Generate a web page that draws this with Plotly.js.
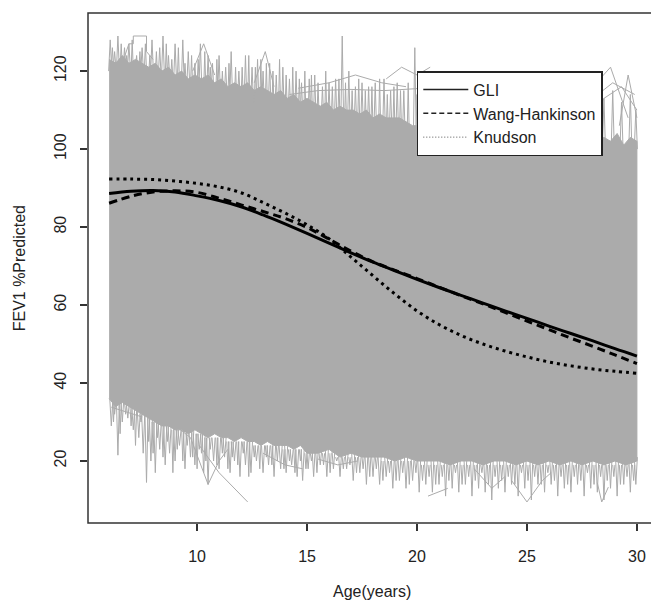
<!DOCTYPE html>
<html>
<head>
<meta charset="utf-8">
<script src="https://cdn.plot.ly/plotly-3.0.1.min.js"></script>
<style>html,body{margin:0;padding:0;background:#fff;}#chart{width:651px;height:602px;}</style>
</head>
<body>
<div id="chart"></div>
<script>
// Fitted reference curves (FEV1 %Predicted by age)
const curveAges = [6,7,8,9,10,11,12,13,14,15,16,17,18,19,20,21,22,23,24,25,26,27,28,29,30];
const gliVals   = [88.6,89.2,89.4,89.0,88.0,86.8,85.2,83.1,80.8,78.4,75.9,73.4,71.0,68.8,66.6,64.5,62.5,60.5,58.5,56.6,54.6,52.7,50.8,48.8,46.9];
const wangVals  = [86.1,87.9,89.0,89.3,88.9,87.4,85.7,84.0,82.2,79.9,76.9,73.8,71.1,68.9,66.8,64.6,62.4,60.3,58.1,55.9,53.7,51.5,49.4,47.2,45.0];
const knudVals  = [92.3,92.3,92.2,91.8,91.2,90.3,88.8,86.3,83.6,80.6,77.0,72.3,67.5,62.8,58.5,55.0,52.2,50.0,48.2,46.7,45.4,44.4,43.6,43.0,42.5];

// Dense band of individual trajectories: upper and lower edges
const bandTopAges = [6.0,6.3,6.6,6.9,7.2,7.5,7.8,8.1,8.4,8.7,9.0,9.3,9.6,9.9,10.2,10.5,10.8,11.1,11.4,11.7,12.0,12.3,12.6,12.9,13.2,13.5,13.8,14.1,14.4,14.7,15.0,15.3,15.6,15.9,16.2,16.5,16.8,17.1,17.4,17.7,18.0,18.3,18.6,18.9,19.2,19.5,19.8,20.1,20.4,20.7,21.0,21.5,22.0,22.5,23.0,23.5,24.0,24.5,25.0,25.5,26.0,26.5,27.0,27.3,27.6,27.9,28.2,28.5,28.8,29.1,29.4,29.7,30.0];
const bandTopVals = [123,122,124,122,123,122,121,122,120,121,119,120,118,119,118,119,117,118,116,117,116,117,115,116,115,114,115,113,114,112,113,112,111,112,110,111,110,110,109,110,108,109,108,108,108,107,106,106,105,105,104,104,103,104,103,103,103,103,103,103,103,103,103,104,102,104,102,103,102,104,101,103,102];
const bandLowAges = [6.0,6.3,6.6,6.9,7.2,7.5,7.8,8.1,8.4,8.7,9.0,9.3,9.6,9.9,10.2,10.5,10.8,11.1,11.4,11.7,12.0,12.3,12.6,12.9,13.2,13.5,13.8,14.1,14.4,14.7,15.0,15.5,16.0,16.5,17.0,17.5,18.0,18.5,19.0,19.5,20.0,20.5,21.0,21.5,22.0,22.5,23.0,23.5,24.0,24.5,25.0,25.5,26.0,26.5,27.0,27.5,28.0,28.5,29.0,29.5,30.0];
const bandLowVals = [36,34,35,34,33,32,31,30,29,29,28,28,27,28,27,26,27,26,26,25,26,25,25,24,25,24,24,24,23,24,22,22,23,21,22,21,21,21,20,21,20,20,20,19,20,20,19,20,20,19,20,19,20,19,20,19,20,19,20,19,20];

// Hair-like trajectory tips sticking out of the band (age, value inside band, tip value)
const tipUpAges = [6.05,6.25,6.4,6.7,6.9,7.25,7.5,7.95,8.3,8.45,8.7,9.0,9.35,9.6,9.9,10.15,10.5,10.7,11.0,11.3,11.55,11.9,12.2,12.5,12.75,13.0,13.3,13.6,13.9,14.2,14.5,14.75,15.1,15.35,15.7,16.0,16.3,16.6,16.9,17.2,17.5,17.8,18.1,18.5,18.8,19.1,19.4,19.9,20.3,26.9,27.3,27.7,28.1,28.5,28.9,29.3,29.7,29.95];
const tipUpBase = [120,120,120,120,120,119,119,119,118,118,117,117,116,116,115,115,114,114,113,113,112,112,111,111,110,110,109,109,108,108,107,107,106,106,106,105,105,105,104,104,104,103,103,103,103,102,102,102,102,100,100,100,100,100,100,100,100,100];
const tipUpVals = [128,125,129,126,127,124,126,128,126,129,124,127,128,125,122,127,124,122,124,121,125,120,124,121,123,120,122,119,121,118,120,117,118,119,116,117,118,129,120,116,117,116,117,118,115,117,115,126,114,113,112,114,111,113,115,112,114,110];
const tipUp2Ages = [6.15,6.55,6.8,7.05,7.4,7.65,7.85,8.15,8.6,8.85,9.15,9.45,9.75,10.05,10.35,10.6,10.9,11.15,11.45,11.75,12.05,12.35,12.65,12.9,13.15,13.45,13.75,14.05,14.35,14.65,14.9,15.2,15.5,15.85,16.15,16.45,16.75,17.05,17.35,17.65,17.95,18.3,18.65,18.95,19.25,19.6,20.0,20.5];
const tipUp2Base = [121,121,121,120,120,120,119,119,118,118,117,117,116,116,115,115,114,114,113,113,113,112,112,111,111,110,110,110,109,109,108,108,108,107,107,107,106,106,106,105,105,105,104,104,104,103,103,103];
const tipUp2Vals = [126,127,124,128,125,127,124,125,127,123,126,122,124,123,125,121,123,120,122,121,121,124,121,123,122,120,123,119,121,118,120,119,117,120,116,118,117,115,118,115,116,118,114,116,115,117,114,115];
const tipLowAges = [6.1,6.25,6.4,6.6,6.85,7.1,7.35,7.55,7.7,7.9,8.1,8.3,8.55,8.75,9.0,9.2,9.45,9.7,9.9,10.1,10.3,10.5,10.75,11.0,11.25,11.5,11.7,11.95,12.2,12.45,12.7,13.0,13.25,13.5,13.8,14.05,14.3,14.55,14.8,15.05,15.3,15.6,15.9,16.2,16.5,16.8,17.1,17.4,17.7,18.0,18.3,18.6,18.9,19.2,19.5,19.8,20.1,20.4,20.7,21.0,21.3,21.6,21.9,22.2,22.5,22.8,23.1,23.4,23.7,24.0,24.3,24.6,24.9,25.2,25.5,25.8,26.1,26.4,26.7,27.0,27.3,27.6,27.9,28.2,28.5,28.8,29.1,29.4,29.7,29.95];
const tipLowBase = [36,36,36,36,35,34,33,32,32,31,30,30,29,29,29,28,28,28,27,27,27,26,26,26,26,25,25,25,25,25,24,24,24,24,24,24,23,23,23,23,23,23,23,23,22,22,22,22,22,22,21,21,21,21,21,21,21,21,21,21,21,21,21,21,21,21,21,21,21,21,21,21,21,21,21,21,21,21,21,21,21,21,21,21,21,21,21,21,21,21];
const tipLowVals = [29,32,21.5,30,31,28,26,22,14.5,20,17,23,19,22,20,24,18,21,19,23,17,14,20,18,21,17,20,16,19,17,20,17,19,16,18,17,19,16,15,18,16,19,16,18,16,18,15,17,14,16,14,16,13,15,13,15,12,14,12,14,11,13,12,14,11,13,12,10,13,12,14,11,13,10,14,12,14,11,13,12,14,11,13,12,10,13,11,14,12,14];
const tipLow2Ages = [6.2,6.5,6.75,7.0,7.2,7.45,7.8,8.0,8.2,8.45,8.65,8.9,9.1,9.35,9.55,9.8,10.0,10.2,10.4,10.6,10.9,11.15,11.4,11.6,11.85,12.1,12.35,12.6,12.85,13.15,13.4,13.65,13.95,14.2,14.45,14.7,14.95,15.2,15.45,15.75,16.05,16.35,16.65,16.95,17.25,17.55,17.85,18.15,18.45,18.75,19.05,19.35,19.65,19.95,20.25,20.55,20.85,21.15,21.45,21.75,22.05,22.35,22.65,22.95,23.25,23.55,23.85,24.15,24.45,24.75,25.05,25.35,25.65,25.95,26.25,26.55,26.85,27.15,27.45,27.75,28.05,28.35,28.65,28.95,29.25,29.55,29.85];
const tipLow2Base = [36,35,35,34,33,32,31,30,30,29,29,28,28,28,27,28,27,27,26,26,26,26,25,25,25,25,25,24,24,24,24,24,23,23,23,23,22,22,22,22,22,21,21,21,21,21,21,21,20,20,20,20,20,20,19,19,19,19,19,19,19,19,19,19,19,19,19,19,19,19,19,19,19,19,19,19,19,19,19,19,19,19,19,19,19,19,19];
const tipLow2Vals = [30,27,32,29,24,30,25,22,26,21,25,17,23,20,24,21,18,22,20,23,19,22,18,21,19,22,16,21,18,21,19,20,18,20,17,20,18,20,17,19,17,20,18,19,17,18,16,18,15,17,15,17,14,17,15,16,14,16,15,17,14,16,15,17,14,16,15,16,14,17,15,16,14,17,15,16,14,16,15,17,14,16,15,16,14,16,15];

// Stray trajectories escaping the band (null separates trajectories)
const topStrayAges = [6.6,6.9,7.1,7.1,7.7,7.7,8.0,null,14.2,15.5,17.0,18.5,20.0,21.5,23.0,null,14.6,16.0,17.2,18.4,19.5,null,18.6,19.3,20.0,20.6,null,9.8,10.3,10.8,null,12.6,13.1,13.5,null,27.2,28.0,28.8,29.6,null,28.0,28.9,29.9,null,27.6,28.5,29.3,30.0,null,29.2,29.6,30.0];
const topStrayVals = [122,127,127,129,129,125,123,null,114,115,115.3,115,115.5,115,116,null,115.6,117,119,117,116,null,118,121,119,121,null,120,127,119,null,117,125,116,null,110,116,121,108,null,113,117,114,null,104,113,116,110,null,106,119,108];
const lowStrayAges = [10.1,11.0,12.3,null,8.8,9.7,10.5,11.0,11.4,null,6.1,7.5,null,15.5,16.4,17.3,null,20.5,21.4,null,24.3,25.0,25.7,26.1,null,28.2,28.4,28.7,null,22.6,23.4,24.0,null,13.0,14.0,14.8];
const lowStrayVals = [24,17,9.5,null,30,26,14,20,23,null,33.8,31.3,null,20.5,19,20,null,11,13,null,15,9.5,15,17,null,14.4,9.5,13.3,null,18,13,16,null,22,19,18];

const grey = '#ababab';
const bandX = bandTopAges.concat(bandLowAges.slice().reverse());
const bandY = bandTopVals.concat(bandLowVals.slice().reverse());

// build thin "needle" polylines from the tip arrays (needle half-width is a drawing style)
function needles(ages, base, tips, hw) {
  const xs = [], ys = [];
  const n = Math.min(ages.length, base.length, tips.length);
  for (let i = 0; i < n; i++) { xs.push(ages[i] - hw, ages[i], ages[i] + hw, null); ys.push(base[i], tips[i], base[i], null); }
  return {xs, ys};
}
const needleSets = [
  needles(tipUpAges, tipUpBase, tipUpVals, 0.07),
  needles(tipUp2Ages, tipUp2Base, tipUp2Vals, 0.05),
  needles(tipLowAges, tipLowBase, tipLowVals, 0.07),
  needles(tipLow2Ages, tipLow2Base, tipLow2Vals, 0.05)
];

const thin = {color: grey, width: 1};
const traces = [
  {x: bandX, y: bandY, type: 'scatter', mode: 'lines', fill: 'toself', fillcolor: grey,
   line: thin, showlegend: false, hoverinfo: 'skip'}
];
needleSets.forEach(s => traces.push({x: s.xs, y: s.ys, type: 'scatter', mode: 'lines', connectgaps: false,
  line: thin, showlegend: false, hoverinfo: 'skip'}));
traces.push(
  {x: topStrayAges, y: topStrayVals, type: 'scatter', mode: 'lines', connectgaps: false, line: thin, showlegend: false, hoverinfo: 'skip'},
  {x: lowStrayAges, y: lowStrayVals, type: 'scatter', mode: 'lines', connectgaps: false, line: thin, showlegend: false, hoverinfo: 'skip'},
  {x: curveAges, y: gliVals, type: 'scatter', mode: 'lines', name: 'GLI', legendgroup: 'g', showlegend: false,
   line: {color: '#000', width: 3, shape: 'spline'}},
  {x: curveAges, y: wangVals, type: 'scatter', mode: 'lines', name: 'Wang-Hankinson', legendgroup: 'w', showlegend: false,
   line: {color: '#000', width: 3, shape: 'spline', dash: '8px,5px'}},
  {x: curveAges, y: knudVals, type: 'scatter', mode: 'lines', name: 'Knudson', legendgroup: 'k', showlegend: false,
   line: {color: '#000', width: 3, shape: 'spline', dash: '3px,4px'}},
  // legend keys (thin, as in the reference legend)
  {x: [null], y: [null], type: 'scatter', mode: 'lines', name: 'GLI', legendgroup: 'g', line: {color: '#222', width: 1.5}},
  {x: [null], y: [null], type: 'scatter', mode: 'lines', name: 'Wang-Hankinson', legendgroup: 'w', line: {color: '#222', width: 1.5, dash: '5px,3px'}},
  {x: [null], y: [null], type: 'scatter', mode: 'lines', name: 'Knudson', legendgroup: 'k', line: {color: '#555', width: 1, dash: '1px,2px'}}
);

const fontFam = 'Liberation Sans, Arial, Helvetica, sans-serif';
const layout = {
  width: 651, height: 602,
  margin: {l: 88, r: 0, t: 13, b: 79},
  paper_bgcolor: '#fff', plot_bgcolor: '#fff',
  font: {family: fontFam, size: 16, color: '#222'},
  showlegend: true,
  legend: {x: 0.584, y: 0.886, xanchor: 'left', yanchor: 'top',
    bgcolor: '#fff', bordercolor: '#222', borderwidth: 1.5,
    font: {family: fontFam, size: 16, color: '#222'}, itemwidth: 45,
    traceorder: 'normal', tracegroupgap: 0},
  xaxis: {range: [5.04, 30.64], tickvals: [10,15,20,25,30], ticktext: ['10','15','20','25','30'],
    ticks: 'outside', ticklen: 7, tickwidth: 1.3, tickcolor: '#333',
    showgrid: false, zeroline: false, showline: false, ticklabelstandoff: 12,
    tickfont: {family: fontFam, size: 16, color: '#222'}},
  yaxis: {range: [4.1, 134.9], tickvals: [20,40,60,80,100,120], ticktext: ['20','40','60','80','100','120'],
    ticks: 'outside', ticklen: 7, tickwidth: 1.3, tickcolor: '#333', tickangle: -90,
    showgrid: false, zeroline: false, showline: false, ticklabelstandoff: 8,
    tickfont: {family: fontFam, size: 16, color: '#222'}},
  shapes: [
    {type: 'rect', xref: 'paper', yref: 'paper', x0: 0, x1: 1.03, y0: 0, y1: 1,
     line: {color: '#333', width: 1.5}, fillcolor: 'rgba(0,0,0,0)', layer: 'above'}
  ],
  annotations: [
    {text: 'Age(years)', xref: 'paper', yref: 'paper', x: 0.505, y: -0.134,
     xanchor: 'center', yanchor: 'middle', showarrow: false, font: {family: fontFam, size: 16, color: '#222'}},
    {text: 'FEV1 %Predicted', xref: 'paper', yref: 'paper', x: -0.122, y: 0.5,
     xanchor: 'center', yanchor: 'middle', textangle: -90, showarrow: false, font: {family: fontFam, size: 16, color: '#222'}}
  ]
};

Plotly.newPlot('chart', traces, layout, {displayModeBar: false, staticPlot: true});
</script>
</body>
</html>
